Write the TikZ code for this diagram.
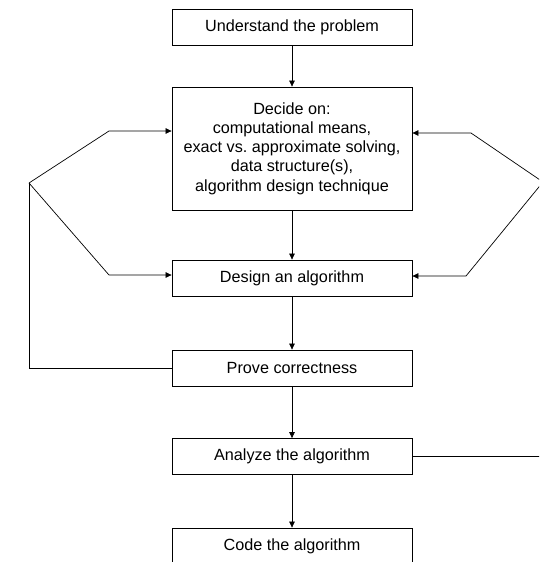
\documentclass[tikz,border=0pt]{standalone}
\usepackage{fontspec}
\setmainfont{Liberation Sans}
\usetikzlibrary{positioning, arrows.meta, calc}

\begin{document}
\begin{tikzpicture}[x=1pt, y=-1pt,
  stage/.style={draw, line width=0.8pt, minimum width=240pt, minimum height=36pt,
    inner sep=0pt, align=center, font=\fontsize{16.2}{19.3}\selectfont},
  flow/.style={-{Triangle[length=6pt, width=5.5pt]}, line width=0.7pt},
  back/.style={line width=0.7pt},
]
  \useasboundingbox (0,0) rectangle (539,562);
  \clip (0,0) rectangle (539,562);

  \node[stage] (understand) at (292,27) {Understand the problem};
  \node[stage, minimum height=123pt] (decide) at (292,148.5)
    {Decide on:\\computational means,\\exact vs.\ approximate solving,\\data structure(s),\\algorithm design technique};
  \node[stage] (design)  at (292,278)   {Design an algorithm};
  \node[stage] (prove)   at (292,368)   {Prove correctness};
  \node[stage] (analyze) at (292,456.5) {Analyze the algorithm};
  \node[stage] (code)    at (292,546)   {Code the algorithm};

  % feedback corners
  \coordinate (lpeak) at (29,183);
  \coordinate (lup)   at (109,131);
  \coordinate (llow)  at (109,275);
  \coordinate (rpeak) at (543,182);
  \coordinate (rup)   at (471,133);
  \coordinate (rlow)  at (466,276);

  \draw[flow] (understand) -- (decide);
  \draw[flow] (decide) -- (design);
  \draw[flow] (design) -- (prove);
  \draw[flow] (prove) -- (analyze);
  \draw[flow] (analyze) -- (code);

  \draw[back] (prove.west) -- (prove.west -| lpeak) -- (lpeak);
  \draw[flow] (lpeak) -- (lup) -- (decide.west |- lup);
  \draw[flow] (lpeak) -- (llow) -- (design.west |- llow);

  \draw[back] (analyze.east) -- (analyze.east -| rpeak) -- (rpeak);
  \draw[flow] (rpeak) -- (rup) -- (decide.east |- rup);
  \draw[flow] (rpeak) -- (rlow) -- (design.east |- rlow);
\end{tikzpicture}
\end{document}
